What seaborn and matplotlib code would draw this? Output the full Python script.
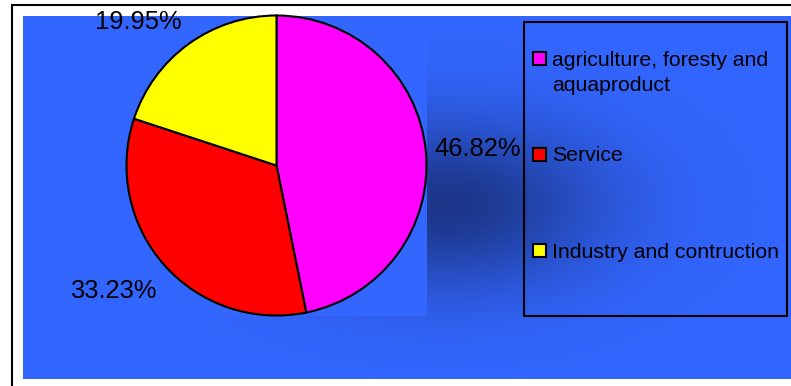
import numpy as np
import matplotlib
matplotlib.use("Agg")
import matplotlib.pyplot as plt
from matplotlib.patches import Rectangle
import seaborn as sns

# ---- data ----
categories = ["agriculture, foresty and\naquaproduct", "Service", "Industry and contruction"]
shares = [46.82, 33.23, 19.95]
colors = ["#FF00FF", "#FF0000", "#FFFF00"]

sns.set_style("white")
plt.rcParams['font.family'] = ['Liberation Sans', 'DejaVu Sans']

W, H = 791, 386
fig = plt.figure(figsize=(W / 100, H / 100), dpi=100)
fig.patch.set_facecolor('white')

# background axes in pixel coordinates
bg = fig.add_axes([0, 0, 1, 1])
bg.axis('off')

x0, x1, y0, y1 = 23, 800, 16, 379
xs = np.arange(x0, x1) + 0.5
ys = np.arange(y0, y1) + 0.5
X, Y = np.meshgrid(xs, ys)
d2 = ((X - 445) / 160) ** 2 + ((Y - 205) / 85) ** 2
w = 0.92 * np.exp(-d2)
base = np.array([51, 102, 255]) / 255
dark = np.array([26, 51, 128]) / 255
img = base * (1 - w[..., None]) + dark * w[..., None]
bg.imshow(img, extent=(x0, x1, y1, y0), interpolation='bilinear', zorder=0, aspect='auto')
bg.add_patch(Rectangle((126.5, 16), 300, 300, facecolor=base, edgecolor='none', zorder=1))
bg.plot([12, 12, W + 5], [H + 5, 5, 5], color='black', lw=1.5,
        solid_joinstyle='miter', zorder=2)

# legend (manual, like the original box)
bg.add_patch(Rectangle((524, 22), 263, 294, facecolor='none', edgecolor='black', lw=1.5, zorder=3))
sq_centers = [58, 154.5, 250]
baselines = [66, 161, 258]
for cat, col, yc, yb in zip(categories, colors, sq_centers, baselines):
    bg.add_patch(Rectangle((533, yc - 6.5), 13, 13, facecolor=col, edgecolor='black',
                           lw=1.5, zorder=4))
    for k, line in enumerate(cat.split("\n")):
        bg.text(552, yb + k * 24.7, line, fontsize=15.3, color='black',
                ha='left', va='baseline', zorder=4)

bg.set_xlim(0, W)
bg.set_ylim(H, 0)

# pie axes
cx, cy, r = 276.5, 165.5, 150
ax = fig.add_axes([(cx - r) / W, (H - cy - r) / H, 2 * r / W, 2 * r / H])
ax.set_zorder(5)
ax.patch.set_alpha(0)
wedges, _, autotexts = ax.pie(shares, colors=colors, startangle=90, counterclock=False,
                              autopct='%.2f%%', pctdistance=1.35,
                              wedgeprops=dict(edgecolor='black', linewidth=1.5))
ax.set_xlim(-1, 1)
ax.set_ylim(-1, 1)
ax.set_aspect('auto')
ax.axis('off')

label_pos = [(477.5, 156), (113, 297.5), (138, 29)]
for t, (px, py) in zip(autotexts, label_pos):
    t.set_position(((px - cx) / r, (cy - py) / r))
    t.set_ha('center')
    t.set_va('baseline')
    t.set_fontsize(18.4)
    t.set_color('black')

fig.savefig('out.png', dpi=100)
